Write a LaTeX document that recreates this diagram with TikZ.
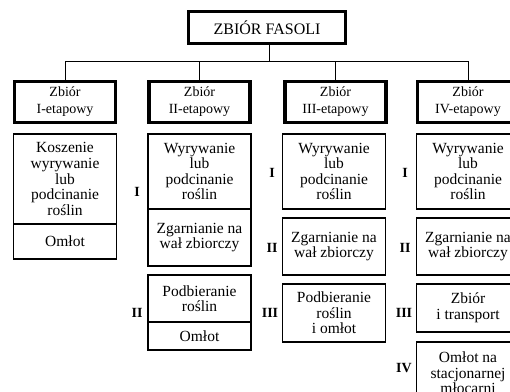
\documentclass[tikz,border=0pt]{standalone}
\usepackage{fontspec}
\setmainfont{Liberation Serif}
\usetikzlibrary{positioning}
\tikzset{
  headbox/.style   = {draw, line width=3pt, minimum width=157pt, minimum height=32pt,
                      inner sep=0pt, outer sep=0pt, font=\fontsize{16}{18}\selectfont},
  stagebox/.style  = {draw, line width=3.5pt, minimum width=101pt, minimum height=41pt,
                      inner sep=0pt, outer sep=0pt, align=center,
                      font=\fontsize{14}{17}\selectfont},
  stepcell/.style  = {draw, line width=1.6pt, minimum width=103pt, inner sep=0pt,
                      outer sep=0pt, align=center, anchor=north,
                      font=\fontsize{15.5}{15.6}\selectfont},
  romanlab/.style  = {font=\fontsize{14}{14}\selectfont\bfseries, inner sep=0pt},
  branchline/.style = {line width=1pt},
}

\begin{document}
\begin{tikzpicture}[x=1pt, y=-1pt]
  \useasboundingbox (0,0) rectangle (510,391);
  % top level
  \node[headbox] (top) at (267,27.5) {ZBIÓR FASOLI};
  \coordinate (hub) at (269,61);
  % stages
  \node[stagebox] (s1) at (65,102) {Zbiór\\I-etapowy};
  \node[stagebox] (s2) at (199.5,102) {Zbiór\\II-etapowy};
  \node[stagebox] (s3) at (335.5,102) {Zbiór\\III-etapowy};
  \node[stagebox] (s4) at (468,102) {Zbiór\\IV-etapowy};
  \draw[branchline] (top.south -| hub) -- (hub);
  \draw[branchline] (s1.north) -- (s1.north |- hub) -| (s4.north);
  \draw[branchline] (s2.north) -- (s2.north |- hub);
  \draw[branchline] (s3.north) -- (s3.north |- hub);
  % column 1
  \node[stepcell, minimum height=90pt] (a1) at (65,134)
    {Koszenie\\wyrywanie\\lub\\podcinanie\\roślin};
  \node[stepcell, minimum height=35pt] (a2) at (a1.south) {Omłot};
  % column 2
  \node[stepcell, minimum height=75pt] (b1) at (199.5,134)
    {Wyrywanie\\lub\\podcinanie\\roślin};
  \node[stepcell, minimum height=57pt] (b2) at (b1.south) {Zgarnianie na\\wał zbiorczy};
  \node[stepcell, minimum height=47pt] (b3) at (199.5,275) {Podbieranie\\roślin};
  \node[stepcell, minimum height=28pt] (b4) at (b3.south) {Omłot};
  \node[romanlab] (bI) at (137,192) {I};
  \node[romanlab] (bII) at (137,313) {II};
  % column 3
  \node[stepcell, minimum height=75pt] (c1) at (334,134)
    {Wyrywanie\\lub\\podcinanie\\roślin};
  \node[stepcell, minimum height=57pt] (c2) at (334,218) {Zgarnianie na\\wał zbiorczy};
  \node[stepcell, minimum height=58pt] (c3) at (334,284) {Podbieranie\\roślin\\i omłot};
  \node[romanlab] (cI) at (272,173) {I};
  \node[romanlab] (cII) at (272,248) {II};
  \node[romanlab] (cIII) at (270,313) {III};
  % column 4
  \node[stepcell, minimum height=75pt] (d1) at (468,134)
    {Wyrywanie\\lub\\podcinanie\\roślin};
  \node[stepcell, minimum height=57pt] (d2) at (468,218) {Zgarnianie na\\wał zbiorczy};
  \node[stepcell, minimum height=48pt] (d3) at (468,284) {Zbiór\\i transport};
  \node[stepcell, minimum height=62pt] (d4) at (468,342)
    {Omłot na\\stacjonarnej\\młocarni};
  \node[romanlab] (dI) at (405,173) {I};
  \node[romanlab] (dII) at (405,248) {II};
  \node[romanlab] (dIII) at (404,313) {III};
  \node[romanlab] (dIV) at (404,368) {IV};
\end{tikzpicture}
\end{document}
